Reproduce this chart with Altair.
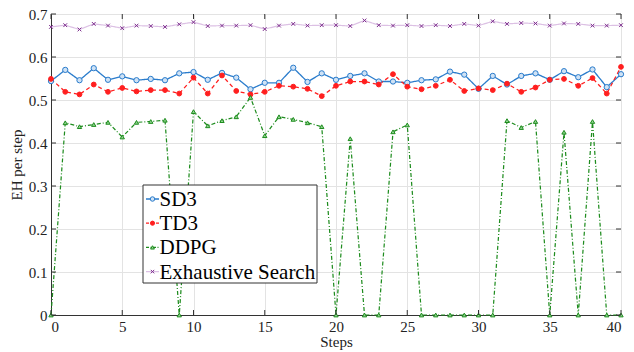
import altair as alt
import pandas as pd

steps = list(range(41))
series_names = ["SD3", "TD3", "DDPG", "Exhaustive Search"]

sd3 = [0.544, 0.570, 0.546, 0.574, 0.547, 0.555, 0.546, 0.549, 0.546, 0.562,
       0.565, 0.547, 0.563, 0.552, 0.525, 0.540, 0.540, 0.575, 0.542, 0.562,
       0.547, 0.556, 0.562, 0.543, 0.543, 0.540, 0.546, 0.548, 0.566, 0.559,
       0.526, 0.556, 0.536, 0.556, 0.562, 0.547, 0.567, 0.553, 0.571, 0.530,
       0.560]
td3 = [0.549, 0.519, 0.513, 0.536, 0.519, 0.528, 0.520, 0.523, 0.523, 0.515,
       0.552, 0.515, 0.557, 0.521, 0.513, 0.519, 0.533, 0.531, 0.526, 0.509,
       0.533, 0.543, 0.543, 0.536, 0.560, 0.531, 0.525, 0.533, 0.547, 0.521,
       0.527, 0.523, 0.538, 0.519, 0.529, 0.547, 0.549, 0.533, 0.551, 0.515,
       0.577]
ddpg = [0.0, 0.447, 0.438, 0.443, 0.448, 0.414, 0.448, 0.450, 0.453, 0.0,
        0.473, 0.440, 0.452, 0.461, 0.506, 0.417, 0.461, 0.455, 0.447, 0.438,
        0.0, 0.410, 0.0, 0.0, 0.426, 0.442, 0.0, 0.0, 0.0, 0.0,
        0.0, 0.0, 0.452, 0.436, 0.450, 0.0, 0.425, 0.0, 0.450, 0.0,
        0.0]
exhaustive = [0.670, 0.674, 0.664, 0.677, 0.673, 0.667, 0.673, 0.672, 0.670, 0.676,
              0.681, 0.672, 0.673, 0.673, 0.674, 0.665, 0.673, 0.677, 0.673, 0.674,
              0.674, 0.672, 0.685, 0.674, 0.673, 0.674, 0.672, 0.674, 0.672, 0.677,
              0.673, 0.683, 0.677, 0.679, 0.678, 0.673, 0.678, 0.677, 0.673, 0.673,
              0.674]

x_ticks = [0, 5, 10, 15, 20, 25, 30, 35, 40]
y_ticks = [0, 0.1, 0.2, 0.3, 0.4, 0.5, 0.6, 0.7]

W, H = 570, 301
FONT = "Liberation Serif, DejaVu Serif, serif"

rows = []
for name, vals in zip(series_names, [sd3, td3, ddpg, exhaustive]):
    for s, v in zip(steps, vals):
        rows.append({"step": s, "value": v, "series": name})
df = pd.DataFrame(rows)

line_colors = ["#2a7ccc", "#ff1f1f", "#1e8c1e", "#dcc0e4"]
mark_stroke = ["#2a7ccc", "#ff1f1f", "#1e8c1e", "#7e2f8e"]
mark_fill = ["#cfe2f5", "#ff1f1f", "#8fd48f", "#7e2f8e"]
dashes = [[1, 0], [4, 3], [4, 2, 1, 2], [1, 0]]
widths = [1.3, 1.2, 1.0, 1.0]
shapes = ["circle", "circle", "triangle-up", "M-1,-1L1,1M-1,1L1,-1"]

dom = series_names
xscale = alt.Scale(domain=[0, 40], nice=False, zero=False)
yscale = alt.Scale(domain=[0, 0.7], nice=False)

base = alt.Chart(df)

lines = base.mark_line().encode(
    x=alt.X("step:Q", scale=xscale,
            axis=alt.Axis(values=x_ticks, title="Steps", grid=True, tickSize=0,
                          labelPadding=4, titlePadding=0)),
    y=alt.Y("value:Q", scale=yscale,
            axis=alt.Axis(values=y_ticks, title="EH per step", grid=True, tickSize=0,
                          labelPadding=4, format=".1~f", titlePadding=4)),
    color=alt.Color("series:N", scale=alt.Scale(domain=dom, range=line_colors), legend=None),
    strokeDash=alt.StrokeDash("series:N", scale=alt.Scale(domain=dom, range=dashes), legend=None),
    strokeWidth=alt.StrokeWidth("series:N", scale=alt.Scale(domain=dom, range=widths), legend=None),
    detail="series:N",
)

points = base.mark_point(filled=True, strokeWidth=1, opacity=1).encode(
    x=alt.X("step:Q", scale=xscale),
    y=alt.Y("value:Q", scale=yscale),
    shape=alt.Shape("series:N", scale=alt.Scale(domain=dom, range=shapes), legend=None),
    stroke=alt.Stroke("series:N", scale=alt.Scale(domain=dom, range=mark_stroke), legend=None),
    fill=alt.Fill("series:N", scale=alt.Scale(domain=dom, range=mark_fill), legend=None),
    size=alt.Size("series:N", scale=alt.Scale(domain=dom, range=[28, 14, 32, 16]), legend=None),
)

# inward tick marks on all four sides
xt = pd.DataFrame({"t": x_ticks})
yt = pd.DataFrame({"t": y_ticks})
tick_color = "#333333"
bottom_ticks = alt.Chart(xt).mark_rule(color=tick_color, strokeWidth=1).encode(
    x=alt.X("t:Q", scale=xscale), y=alt.value(H), y2=alt.value(H - 5))
top_ticks = alt.Chart(xt).mark_rule(color=tick_color, strokeWidth=1).encode(
    x=alt.X("t:Q", scale=xscale), y=alt.value(0), y2=alt.value(5))
left_ticks = alt.Chart(yt).mark_rule(color=tick_color, strokeWidth=1).encode(
    y=alt.Y("t:Q", scale=yscale), x=alt.value(0), x2=alt.value(5))
right_ticks = alt.Chart(yt).mark_rule(color=tick_color, strokeWidth=1).encode(
    y=alt.Y("t:Q", scale=yscale), x=alt.value(W), x2=alt.value(W - 5))

# manual legend
leg_df = pd.DataFrame({"series": series_names, "idx": list(range(4))})
leg_base = alt.Chart(leg_df).transform_calculate(py="185 + datum.idx * 24.2")
leg_box = alt.Chart(leg_df.head(1)).mark_rect(fill="white", stroke="#333333", strokeWidth=1).encode(
    x=alt.value(92), x2=alt.value(266), y=alt.value(171), y2=alt.value(269))
leg_lines = leg_base.mark_rule().encode(
    x=alt.value(95), x2=alt.value(108),
    y=alt.Y("py:Q", scale=None),
    color=alt.Color("series:N", scale=alt.Scale(domain=dom, range=line_colors), legend=None),
    strokeDash=alt.StrokeDash("series:N", scale=alt.Scale(domain=dom, range=[[1, 0], [3, 2], [3, 1.5, 1, 1.5], [1, 0]]), legend=None),
    strokeWidth=alt.StrokeWidth("series:N", scale=alt.Scale(domain=dom, range=widths), legend=None),
)
leg_pts = leg_base.mark_point(filled=True, strokeWidth=1, opacity=1).encode(
    x=alt.value(101.5),
    y=alt.Y("py:Q", scale=None),
    shape=alt.Shape("series:N", scale=alt.Scale(domain=dom, range=shapes), legend=None),
    stroke=alt.Stroke("series:N", scale=alt.Scale(domain=dom, range=mark_stroke), legend=None),
    fill=alt.Fill("series:N", scale=alt.Scale(domain=dom, range=mark_fill), legend=None),
    size=alt.Size("series:N", scale=alt.Scale(domain=dom, range=[20, 12, 24, 12]), legend=None),
)
leg_text = leg_base.mark_text(align="left", baseline="middle", font=FONT, fontSize=21,
                              color="#000000", dy=1).encode(
    x=alt.value(108.5),
    y=alt.Y("py:Q", scale=None),
    text="series:N",
)

chart = alt.layer(
    lines, points, bottom_ticks, top_ticks, left_ticks, right_ticks,
    leg_box, leg_lines, leg_pts, leg_text
).resolve_scale(
    color="independent", strokeDash="independent", strokeWidth="independent",
    shape="independent", stroke="independent", fill="independent", size="independent"
).properties(
    width=W, height=H,
    autosize=alt.AutoSizeParams(type="none"),
    padding={"left": 51, "top": 14, "right": 13, "bottom": 37},
).configure_view(
    stroke="#333333", strokeWidth=1
).configure_axis(
    labelFont=FONT, titleFont=FONT, labelFontSize=15, titleFontSize=15,
    labelColor="#222222", titleColor="#222222", titleFontWeight="normal",
    gridColor="#e3e3e3", gridWidth=1, domainColor="#333333", domainWidth=1,
)

chart.save("out.html", embed_options={"renderer": "svg", "actions": False})
